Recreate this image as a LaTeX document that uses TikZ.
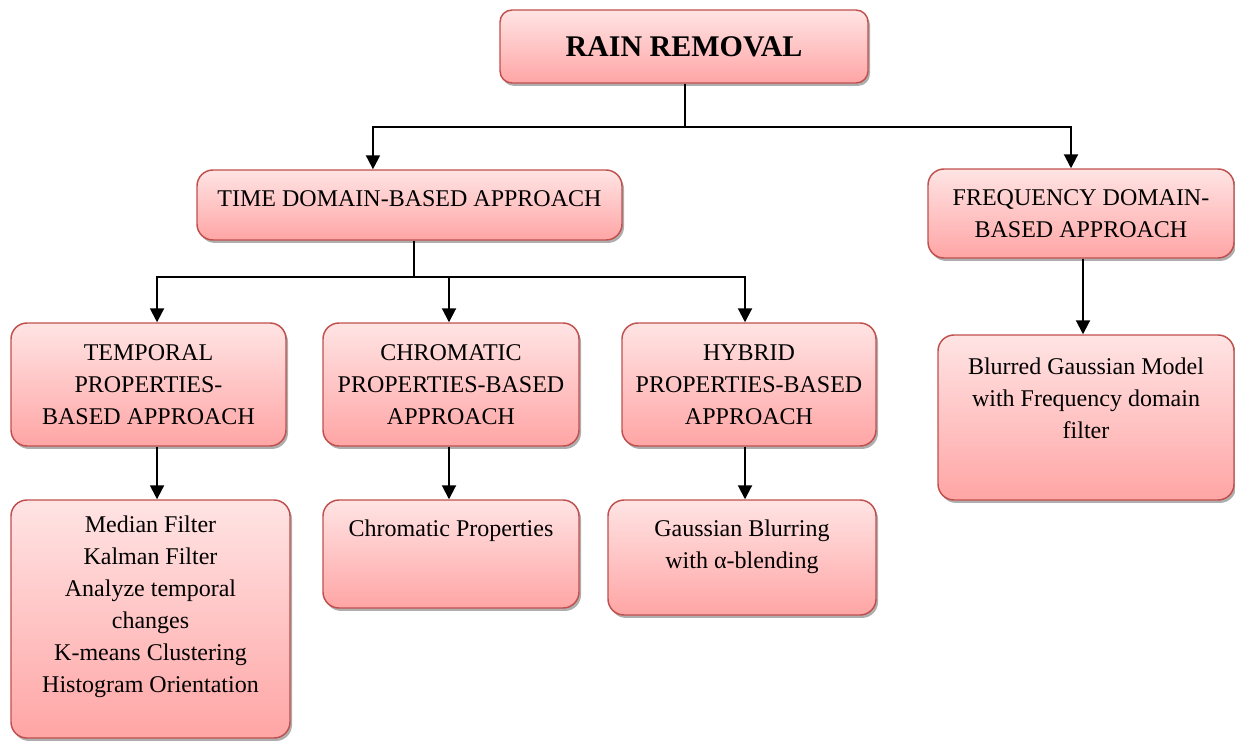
\documentclass[tikz,border=0pt]{standalone}
\usepackage{fontspec}
\setmainfont{Liberation Serif}
\usetikzlibrary{arrows.meta,shadows}
\definecolor{boxedge}{HTML}{C0504D}
\definecolor{boxtop}{HTML}{FFE4E4}
\definecolor{boxbottom}{HTML}{FFA5A5}
% text set from the top of a tall box
\newcommand{\toptext}[4]{\parbox[c][#2][t]{#1}{\vspace*{#3}\centering #4\par}}
\tikzset{
    %Define standard arrow tip
    >={Triangle[length=10.5pt,width=10.5pt]},
    %Define style for boxes
    pinkbox/.style={
           rectangle,
           rounded corners=12pt,
           draw=boxedge, line width=1.1pt,
           top color=boxtop, bottom color=boxbottom,
           drop shadow={shadow xshift=1.5pt, shadow yshift=-2.2pt, fill=black!45, opacity=0.7},
           font=\fontsize{18}{24}\selectfont,
           align=center,
           inner sep=0pt,
           },
    titlebox/.style={
           pinkbox,
           rounded corners=9pt,
           font=\fontsize{22.5}{26}\selectfont\bfseries,
           },
    % Define arrow style
    pil/.style={
           ->,
           line width=1.5pt,},
}
\begin{document}
\begin{tikzpicture}[x=0.75pt,y=-0.75pt]
\useasboundingbox (0,0) rectangle (1235,740);
 %nodes
\node[titlebox, minimum width=276pt, minimum height=54.75pt] (rain) at (684,46.5) {RAIN REMOVAL};
\node[pinkbox, minimum width=318.75pt, minimum height=52.5pt, text depth=9pt] (time) at (409.5,205) {TIME DOMAIN-BASED APPROACH};
\node[pinkbox, minimum width=229.5pt, minimum height=66.75pt] (freq) at (1081,213.5) {FREQUENCY DOMAIN-\\BASED APPROACH};
\node[pinkbox, minimum width=206.25pt, minimum height=92.25pt] (temp) at (148.5,384.5) {TEMPORAL\\PROPERTIES-\\BASED APPROACH};
\node[pinkbox, minimum width=192pt, minimum height=92.25pt] (chrom) at (451,384.5) {CHROMATIC\\PROPERTIES-BASED\\APPROACH};
\node[pinkbox, minimum width=190.5pt, minimum height=92.25pt] (hybrid) at (749,384.5) {HYBRID\\PROPERTIES-BASED\\APPROACH};
\node[pinkbox] (blur) at (1086,417.5) {\toptext{222pt}{123.75pt}{17.5pt}{Blurred Gaussian Model\\with Frequency domain\\filter}};
\node[pinkbox] (med) at (150.5,619) {\toptext{209.25pt}{178.5pt}{12pt}{Median Filter\\Kalman Filter\\Analyze temporal\\changes\\K-means Clustering\\Histogram Orientation}};
\node[pinkbox] (cprop) at (451,554) {\toptext{192pt}{81pt}{15pt}{Chromatic Properties}};
\node[pinkbox] (gauss) at (742,557.5) {\toptext{201pt}{86.25pt}{15pt}{Gaussian Blurring\\with α-blending}};
 %connectors
\coordinate (b1) at (685,127);
\coordinate (b2) at (414,277);
\draw[line width=1.5pt] (rain.south -| b1) -- (b1);
\draw[pil] (b1) -| ([xshift=-27.4pt]time.north);
\draw[pil] (b1) -| ([xshift=-7.5pt]freq.north);
\draw[line width=1.5pt] (time.south -| b2) -- (b2);
\draw[pil] (b2) -| ([xshift=6.4pt]temp.north);
\draw[pil] (b2) -| ([xshift=-1.5pt]chrom.north);
\draw[pil] (b2) -| ([xshift=-3pt]hybrid.north);
\draw[pil] ([xshift=6.4pt]temp.south) -- ([xshift=6.4pt]temp.south |- med.north);
\draw[pil] ([xshift=-1.5pt]chrom.south) -- ([xshift=-1.5pt]chrom.south |- cprop.north);
\draw[pil] ([xshift=-3pt]hybrid.south) -- ([xshift=-3pt]hybrid.south |- gauss.north);
\draw[pil] ([xshift=1.5pt]freq.south) -- ([xshift=1.5pt]freq.south |- blur.north);
\end{tikzpicture}
\end{document}
